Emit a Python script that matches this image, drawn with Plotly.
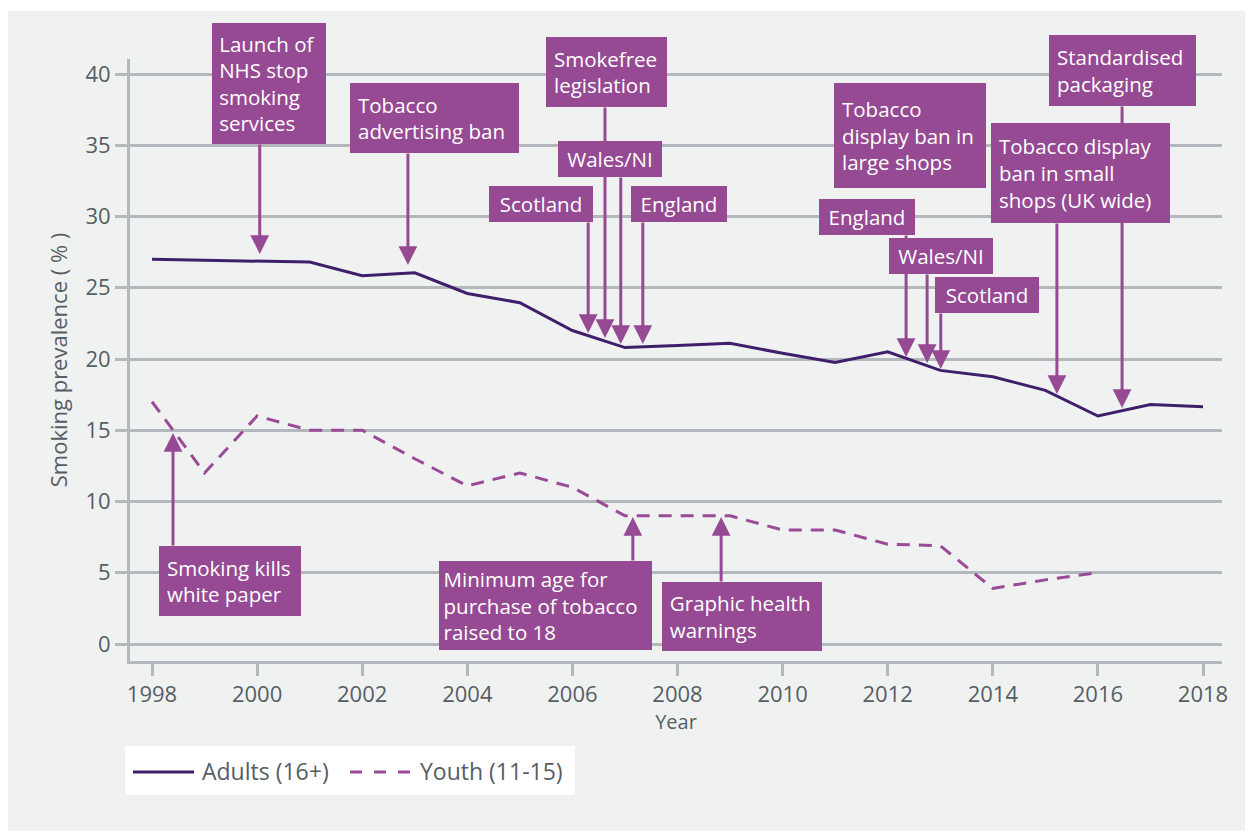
import plotly.graph_objects as go

# ---------------- data ----------------
years = list(range(1998, 2019))
adults = [27.0, 26.95, 26.9, 26.8, 25.85, 26.05, 24.6, 23.95, 22.0, 20.8, 20.95,
          21.1, 20.4, 19.75, 20.5, 19.2, 18.75, 17.8, 16.0, 16.8, 16.65]
youth_years = list(range(1998, 2017))
youth = [17, 12, 16, 15, 15, 13, 11.1, 12, 11, 9, 9, 9, 8, 8, 7, 6.9, 3.9, 4.5, 5]

x_ticks = list(range(1998, 2019, 2))
y_ticks = list(range(0, 41, 5))

series_names = ["Adults (16+)", "Youth (11-15)"]

# event labels (box text)
box_texts = [
    "Launch of<br>NHS stop<br>smoking<br>services",
    "Tobacco<br>advertising ban",
    "Smokefree<br>legislation",
    "Wales/NI",
    "Scotland",
    "England",
    "Tobacco<br>display ban in<br>large shops",
    "England",
    "Wales/NI",
    "Scotland",
    "Standardised<br>packaging",
    "Tobacco display<br>ban in small<br>shops (UK wide)",
    "Smoking kills<br>white paper",
    "Minimum age for<br>purchase of tobacco<br>raised to 18",
    "Graphic health<br>warnings",
]
# box extents in screen pixels (left, top, right, bottom) – layout only
box_px = [
    (212, 23, 326, 144),
    (350, 83, 519, 153),
    (546, 37, 667, 107),
    (558, 141, 662, 177),
    (489, 186, 593, 222),
    (631, 186, 727, 222),
    (834, 83, 986, 188),
    (819, 199, 915, 235),
    (889, 238, 993, 274),
    (935, 277, 1039, 313),
    (1049, 35, 1196, 106),
    (991, 123, 1170, 223),
    (159, 546, 301, 616),
    (439, 561, 652, 650),
    (662, 582, 822, 651),
]
# arrows: year of event, value at arrow tip, value at arrow tail
arrow_year = [2000.05, 2002.87, 2006.62, 2006.92, 2006.30, 2007.34, 2012.35, 2012.75,
              2013.01, 2016.46, 2015.22, 1998.40, 2007.15, 2008.83]
arrow_tip = [27.37, 26.6, 21.47, 21.05, 21.82, 21.05, 20.14, 19.72, 19.30, 16.56,
             17.54, 14.81, 8.91, 8.91]
arrow_tail = [35.09, 34.46, 37.68, 32.77, 29.61, 29.61, 28.70, 25.96, 23.23, 37.75,
              29.54, 6.88, 5.82, 4.35]

# ---------------- style / layout geometry ----------------
OFF = 8                      # page body margin
W, H = 1253 - 2 * OFF, 839 - 2 * OFF
PLOT_L, PLOT_R, PLOT_T, PLOT_B = 130, 1222, 59, 661   # screen px
ML = PLOT_L - OFF
MT = PLOT_T - OFF
MR = W - (PLOT_R - OFF)
MB = H - (PLOT_B - OFF)
PW = W - ML - MR
PH = H - MT - MB
BOX = "#964a93"
ADULT = "#3f1f6b"
YOUTH = "#9a4a97"
GRID = "#b3b8bd"
TXT = "#565d65"
BG = "#f0f2f1"
FONT = "Open Sans"
BOX_FS = 20.5
LINE_H = BOX_FS * 1.3


def px_x(p):
    return (p - PLOT_L) / PW


def px_y(p):
    return (PLOT_B - p) / PH


fig = go.Figure()
fig.add_trace(go.Scatter(x=years, y=adults, mode="lines", name=series_names[0],
                         line=dict(color=ADULT, width=3), showlegend=False))
fig.add_trace(go.Scatter(x=youth_years, y=youth, mode="lines", name=series_names[1],
                         line=dict(color=YOUTH, width=3, dash="13px,9px"),
                         showlegend=False))

annotations = []
for yr, tip, tail in zip(arrow_year, arrow_tip, arrow_tail):
    annotations.append(dict(
        x=yr, y=tip, ax=yr, ay=tail, xref="x", yref="y", axref="x", ayref="y",
        text="", showarrow=True, arrowhead=2, arrowsize=1.25, arrowwidth=3,
        arrowcolor=BOX, borderpad=0, standoff=0))

for txt, (l, t, r, b) in zip(box_texts, box_px):
    nlines = txt.count("<br>") + 1
    h = b - t
    pad = max(0.0, min(8.0, (h - nlines * LINE_H) / 2))
    annotations.append(dict(
        x=px_x(l), y=px_y(t), xref="paper", yref="paper",
        xanchor="left", yanchor="top", text=txt, showarrow=False,
        align="center" if nlines == 1 else "left", valign="middle",
        width=r - l - 2 * pad, height=h - 2 * pad,
        bgcolor=BOX, borderpad=pad, borderwidth=0,
        font=dict(family=FONT, size=BOX_FS, color="white")))

# manual legend
LEG_Y = 771
annotations.append(dict(x=px_x(200), y=px_y(LEG_Y), xref="paper", yref="paper",
                        xanchor="left", yanchor="middle", text=series_names[0],
                        showarrow=False, font=dict(family=FONT, size=23, color=TXT)))
annotations.append(dict(x=px_x(418), y=px_y(LEG_Y), xref="paper", yref="paper",
                        xanchor="left", yanchor="middle", text=series_names[1],
                        showarrow=False, font=dict(family=FONT, size=23, color=TXT)))

shapes = [
    dict(type="rect", xref="paper", yref="paper",
         x0=px_x(7), x1=px_x(1246), y0=px_y(836), y1=px_y(11),
         fillcolor=BG, line=dict(width=0), layer="below"),
    dict(type="rect", xref="paper", yref="paper",
         x0=px_x(125), x1=px_x(575), y0=px_y(795), y1=px_y(746),
         fillcolor="white", line=dict(width=0), layer="above"),
    dict(type="line", xref="paper", yref="paper",
         x0=px_x(133), x1=px_x(194), y0=px_y(LEG_Y + 1), y1=px_y(LEG_Y + 1),
         line=dict(color=ADULT, width=3)),
    dict(type="line", xref="paper", yref="paper",
         x0=px_x(350), x1=px_x(412), y0=px_y(LEG_Y + 1), y1=px_y(LEG_Y + 1),
         line=dict(color=YOUTH, width=3, dash="12px,12px")),
]

x0 = 1998 - (152 - PLOT_L) / 52.55
x1 = x0 + PW / 52.55
y1 = (644 - PLOT_T) / 14.25
y0 = y1 - PH / 14.25

fig.update_layout(
    width=W, height=H,
    margin=dict(l=ML, r=MR, t=MT, b=MB, pad=0),
    paper_bgcolor="white", plot_bgcolor=BG,
    font=dict(family=FONT, color=TXT, size=20),
    showlegend=False,
    annotations=annotations,
    shapes=shapes,
    xaxis=dict(range=[x0, x1], tickvals=x_ticks, showgrid=False, zeroline=False,
               showline=True, linecolor=GRID, linewidth=3,
               ticks="outside", ticklen=12, tickwidth=2.5, tickcolor=GRID,
               tickfont=dict(size=22, color=TXT),
               title=dict(text="Year", font=dict(size=20, color=TXT), standoff=8)),
    yaxis=dict(range=[y0, y1], tickvals=y_ticks, showgrid=True, gridcolor=GRID,
               gridwidth=2.5, zeroline=False, showline=True, linecolor=GRID,
               linewidth=3, ticks="outside", ticklen=12, tickwidth=2.5,
               tickcolor=GRID, tickfont=dict(size=22, color=TXT),
               title=dict(text="Smoking prevalence ( % )",
                          font=dict(size=22, color=TXT), standoff=12)),
)

fig.write_html("out.html")
